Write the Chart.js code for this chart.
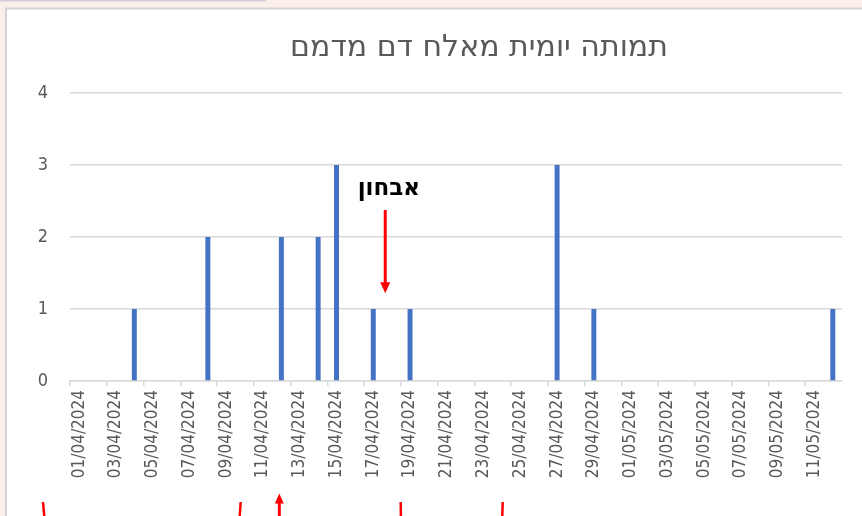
<!DOCTYPE html>
<html>
<head>
<meta charset="utf-8">
<script src="https://cdn.jsdelivr.net/npm/chart.js@4.4.1/dist/chart.umd.min.js"></script>
<style>
  html, body { margin: 0; padding: 0; background: #fbefea; overflow: hidden; }
  canvas { display: block; }
</style>
</head>
<body>
<canvas id="c" width="862" height="516" style="width:862px;height:516px"></canvas>
<script>
const chartTitle = 'תמותה יומית מאלח דם מדמם';
const annotationText = 'אבחון';
const dates = [
  '01/04/2024','02/04/2024','03/04/2024','04/04/2024','05/04/2024','06/04/2024','07/04/2024',
  '08/04/2024','09/04/2024','10/04/2024','11/04/2024','12/04/2024','13/04/2024','14/04/2024',
  '15/04/2024','16/04/2024','17/04/2024','18/04/2024','19/04/2024','20/04/2024','21/04/2024',
  '22/04/2024','23/04/2024','24/04/2024','25/04/2024','26/04/2024','27/04/2024','28/04/2024',
  '29/04/2024','30/04/2024','01/05/2024','02/05/2024','03/05/2024','04/05/2024','05/05/2024',
  '06/05/2024','07/05/2024','08/05/2024','09/05/2024','10/05/2024','11/05/2024','12/05/2024'
];
const deaths = [
  0,0,0,1,0,0,0,
  2,0,0,0,2,0,2,
  3,0,1,0,1,0,0,
  0,0,0,0,0,3,0,
  1,0,0,0,0,0,0,
  0,0,0,0,0,0,1
];
const yTicks = [0, 1, 2, 3, 4];

const FONT = "'DejaVu Sans Condensed', 'DejaVu Sans', sans-serif";
const GREY = '#595959';
const GRID = '#d9d9d9';
const RED = '#ff0000';

const framePlugin = {
  id: 'frame',
  beforeDraw(chart) {
    const ctx = chart.ctx;
    const W = chart.width, H = chart.height;
    ctx.save();
    ctx.fillStyle = '#fbefea';
    ctx.fillRect(0, 0, W, H);
    ctx.fillStyle = '#d6ceda';
    ctx.fillRect(0, 0, 266, 1.5);
    ctx.fillStyle = '#ffffff';
    ctx.fillRect(6, 8, W, H);
    ctx.strokeStyle = '#d4d4d4';
    ctx.lineWidth = 2;
    ctx.beginPath();
    ctx.moveTo(6, H + 5);
    ctx.lineTo(6, 8.5);
    ctx.lineTo(W + 5, 8.5);
    ctx.stroke();
    // chart title (the chart object extends past the right edge, so its centre is right of the plot centre)
    ctx.fillStyle = GREY;
    ctx.font = "30px 'DejaVu Sans', sans-serif";
    ctx.textAlign = 'center';
    ctx.textBaseline = 'middle';
    ctx.fillText(chartTitle, 479, 48);
    ctx.restore();
  },
  afterDatasetsDraw(chart) {
    const ctx = chart.ctx;
    const xs = chart.scales.x, ys = chart.scales.y;
    ctx.save();
    // annotation text
    const ax = xs.getPixelForValue(16.65);
    ctx.fillStyle = '#000000';
    ctx.font = "bold 23px 'DejaVu Sans', sans-serif";
    ctx.textAlign = 'center';
    ctx.textBaseline = 'middle';
    ctx.fillText(annotationText, xs.getPixelForValue(16.85), ys.getPixelForValue(2.67));
    // down arrow
    const yTop = ys.getPixelForValue(2.375);
    const yTip = ys.getPixelForValue(1.22);
    ctx.strokeStyle = RED;
    ctx.fillStyle = RED;
    ctx.lineWidth = 3;
    ctx.beginPath();
    ctx.moveTo(ax, yTop);
    ctx.lineTo(ax, yTip - 9);
    ctx.stroke();
    ctx.beginPath();
    ctx.moveTo(ax - 5, yTip - 11);
    ctx.lineTo(ax + 5, yTip - 11);
    ctx.lineTo(ax, yTip);
    ctx.closePath();
    ctx.fill();
    // bottom marks (parts of annotations below the frame)
    const H = chart.height;
    ctx.lineWidth = 2.5;
    const marks = [[43, 44.3], [240.7, 239.7], [400.7, 400.9], [502.7, 502.3]];
    marks.forEach(([x1, x2]) => {
      ctx.beginPath();
      ctx.moveTo(x1, 502);
      ctx.lineTo(x2, H);
      ctx.stroke();
    });
    // up arrow
    ctx.lineWidth = 3;
    ctx.beginPath();
    ctx.moveTo(279.3, H);
    ctx.lineTo(279.3, 501);
    ctx.stroke();
    ctx.beginPath();
    ctx.moveTo(274.8, 503.5);
    ctx.lineTo(283.8, 503.5);
    ctx.lineTo(279.3, 493.5);
    ctx.closePath();
    ctx.fill();
    ctx.restore();
  }
};

Chart.defaults.color = GREY;
Chart.defaults.font.family = FONT;

new Chart(document.getElementById('c'), {
  type: 'bar',
  data: {
    labels: dates,
    datasets: [{
      data: deaths,
      backgroundColor: '#4472c4',
      borderWidth: 0,
      categoryPercentage: 1,
      barPercentage: 0.27
    }]
  },
  options: {
    responsive: false,
    animation: false,
    devicePixelRatio: 1,
    layout: { padding: { left: 0, right: 20, top: 93, bottom: 0 } },
    plugins: {
      legend: { display: false },
      tooltip: { enabled: false },
      title: { display: false }
    },
    scales: {
      x: {
        offset: true,
        grid: {
          offset: true,
          drawOnChartArea: false,
          drawTicks: true,
          tickLength: 5,
          lineWidth: 1.5,
          color: (c) => (c.index % 2 === 0 ? GRID : 'rgba(0,0,0,0)'),
          tickColor: (c) => (c.index % 2 === 0 ? GRID : 'rgba(0,0,0,0)')
        },
        border: { display: true, color: GRID, width: 1.5 },
        ticks: {
          autoSkip: false,
          minRotation: 90,
          maxRotation: 90,
          padding: 4,
          color: GREY,
          font: { size: 17, family: FONT },
          callback: function (v, i) { return i % 2 === 0 ? dates[i] : ''; }
        },
        afterFit: (s) => { s.height = 135; }
      },
      y: {
        min: 0,
        max: 4,
        afterBuildTicks: (s) => { s.ticks = yTicks.map(v => ({ value: v })); },
        grid: { color: GRID, lineWidth: 1.5, drawTicks: false },
        border: { display: false },
        ticks: {
          padding: 22,
          color: GREY,
          font: { size: 18, family: FONT }
        },
        afterFit: (s) => { s.width = 70; }
      }
    }
  },
  plugins: [framePlugin]
});
</script>
</body>
</html>
